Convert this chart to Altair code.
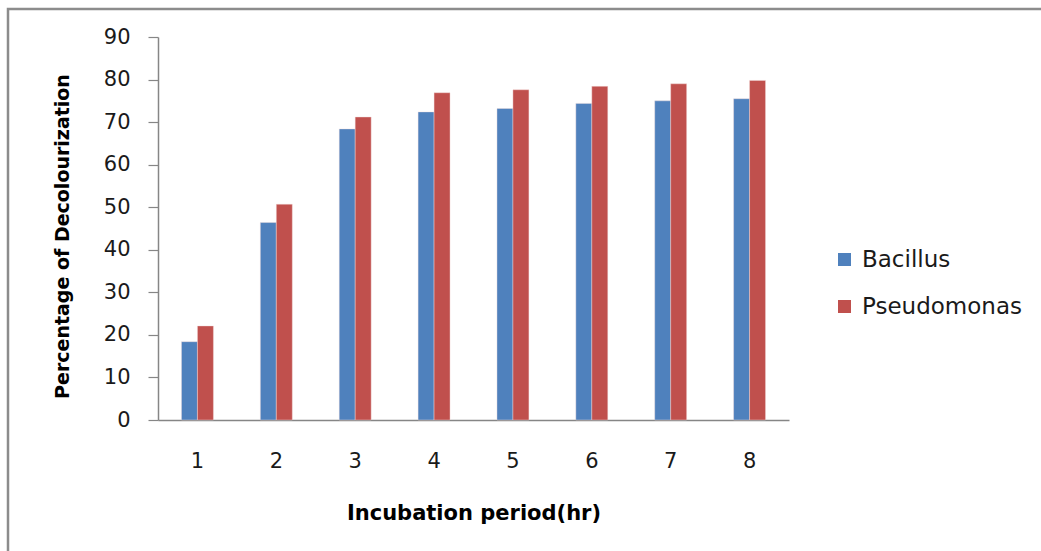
import altair as alt
import pandas as pd

hours = ["1", "2", "3", "4", "5", "6", "7", "8"]
bacillus = [18.4, 46.4, 68.4, 72.4, 73.2, 74.4, 75.0, 75.5]
pseudomonas = [22.1, 50.7, 71.2, 76.9, 77.6, 78.4, 79.0, 79.8]
series = ["Bacillus", "Pseudomonas"]
colors = ["#4F81BD", "#C0504D"]

rows = []
for h, b, p in zip(hours, bacillus, pseudomonas):
    rows.append({"hour": h, "organism": series[0], "value": b})
    rows.append({"hour": h, "organism": series[1], "value": p})
df = pd.DataFrame(rows)

FONT = "DejaVu Sans"

bars = alt.Chart(df).mark_bar(stroke="#f4dede", strokeWidth=0.6, strokeOpacity=0.7).encode(
    x=alt.X("hour:N", sort=hours,
            scale=alt.Scale(paddingInner=0.595, paddingOuter=0.2975),
            axis=alt.Axis(title="Incubation period(hr)", labelAngle=0, ticks=False,
                          labelPadding=30, titlePadding=31,
                          labelFontSize=21, titleFontSize=21, titleFontWeight="bold",
                          domainColor="#868686", domainWidth=1.5)),
    xOffset=alt.XOffset("organism:N", sort=series),
    y=alt.Y("value:Q",
            scale=alt.Scale(domain=[0, 90], nice=False),
            axis=alt.Axis(title="Percentage of Decolourization",
                          values=list(range(0, 91, 10)), grid=False,
                          tickSize=10, tickColor="#868686", tickWidth=1.2,
                          domainColor="#868686", domainWidth=1.5,
                          labelPadding=18, labelFontSize=21,
                          titleFontSize=19, titleFontWeight="bold", titlePadding=31,
                          titleY=199)),
    color=alt.Color("organism:N", sort=series,
                    scale=alt.Scale(domain=series, range=colors),
                    legend=alt.Legend(title=None, orient="none", legendX=675, legendY=211,
                                      symbolType="square", symbolSize=169,
                                      symbolStrokeWidth=0, labelFontSize=23,
                                      rowPadding=23, labelOffset=6, padding=0)),
)

frame = alt.Chart(pd.DataFrame({"k": [0]})).mark_rect(
    fill=None, stroke="#8c8c8c", strokeWidth=2.5
).encode(
    x=alt.value(-150), x2=alt.value(900),
    y=alt.value(-28), y2=alt.value(530),
)

chart = alt.layer(frame, bars).properties(
    width=631, height=383,
    autosize=alt.AutoSizeParams(type="none"),
    padding={"left": 158, "top": 37, "right": 252, "bottom": 131},
).configure_view(stroke=None).configure_axis(
    labelFont=FONT, titleFont=FONT, labelColor="#1a1a1a", titleColor="#000000"
).configure_legend(labelFont=FONT, labelColor="#1a1a1a")

chart.save("out.html", embed_options={"renderer": "svg", "actions": False})
